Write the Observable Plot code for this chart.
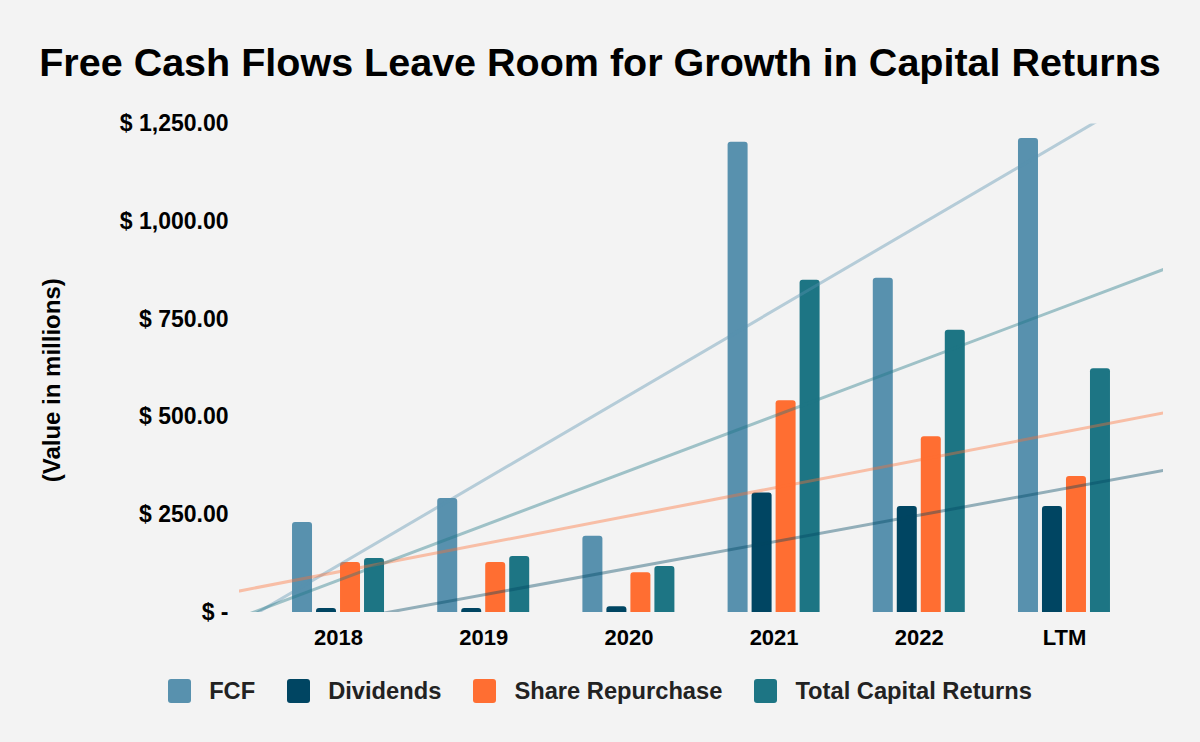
<!DOCTYPE html>
<html><head><meta charset="utf-8">
<script src="https://cdn.jsdelivr.net/npm/d3@7"></script>
<script src="https://cdn.jsdelivr.net/npm/@observablehq/plot@0.6"></script>
<style>
html,body{margin:0;padding:0;background:#f3f3f3;width:1200px;height:742px;overflow:hidden;font-family:"Liberation Sans",Arial,sans-serif;}
#title{position:absolute;left:0;top:42px;width:1200px;text-align:center;font-size:39.5px;line-height:40px;font-weight:bold;color:#000;white-space:nowrap;}
#chart{position:absolute;left:0;top:90px;}
#legend{position:absolute;left:0;top:679px;width:1200px;height:24px;display:flex;justify-content:center;align-items:center;font-size:23.7px;font-weight:bold;color:#222;}
.item{display:flex;align-items:center;margin:0 16px;white-space:nowrap;}
.sw{width:23px;height:24px;border-radius:3px;margin-right:18px;}
</style></head><body>
<div id="title">Free Cash Flows Leave Room for Growth in Capital Returns</div>
<div id="chart"></div>
<div id="legend"></div>
<script>
const categories = ["2018", "2019", "2020", "2021", "2022", "LTM"];
const seriesNames = ["FCF", "Dividends", "Share Repurchase", "Total Capital Returns"];
const fcf = [230, 292, 195, 1203, 855, 1213];
const dividends = [10, 10, 15, 306, 271, 271];
const shareRepurchase = [128, 128, 102, 542, 450, 348];
const totalCapitalReturns = [138, 143, 118, 850, 722, 624];
const colors = ["#5891ae", "#004562", "#ff6e32", "#1d7584"];
const yTicks = [0, 250, 500, 750, 1000, 1250];
const yLabel = "(Value in millions)";

const values = [fcf, dividends, shareRepurchase, totalCapitalReturns];
const rows = values.flatMap((vals, s) => vals.map((v, i) => ({series: seriesNames[s], s, i, value: v})));

const xPad = 0.682;
const xDomain = [-xPad, categories.length - 1 + xPad];

// linear trend lines (least squares over category index), extended across the plot
const trend = values.flatMap((vals, s) => {
  const xs = d3.range(vals.length);
  const mx = d3.mean(xs), my = d3.mean(vals);
  const slope = d3.sum(xs, (x, k) => (x - mx) * (vals[k] - my)) / d3.sum(xs, x => (x - mx) ** 2);
  return xDomain.map(x => ({series: seriesNames[s], s, x, y: my + slope * (x - mx)}));
});

const barW = 20, barStep = 24;
const marks = [];
values.forEach((vals, s) => {
  marks.push(Plot.rect(rows.filter(d => d.s === s), {
    x1: "i", x2: "i", y1: 0, y2: "value",
    fill: colors[s],
    insetLeft: -barW / 2, insetRight: -barW / 2, insetBottom: -5,
    dx: (s - (values.length - 1) / 2) * barStep,
    rx: 3, clip: true
  }));
});
values.forEach((vals, s) => {
  marks.push(Plot.line(trend.filter(d => d.s === s), {
    x: "x", y: "y", stroke: colors[s], strokeOpacity: 0.4, strokeWidth: 3, clip: true
  }));
});
marks.push(Plot.axisY({
  ticks: yTicks,
  tickFormat: v => v === 0 ? "$ -" : "$ " + d3.format(",.2f")(v),
  tickSize: 0, tickPadding: 11, label: null, fontSize: 23
}));
marks.push(Plot.axisX({
  ticks: d3.range(categories.length),
  tickFormat: i => categories[i],
  tickSize: 0, tickPadding: 17, label: null
}));
marks.push(Plot.text([yLabel], {
  frameAnchor: "left", textAnchor: "middle", dx: -187, dy: 12, rotate: -90,
  fontSize: 24, fontWeight: "bold", fill: "#000"
}));

const chart = Plot.plot({
  width: 1200, height: 565,
  marginLeft: 239, marginRight: 37, marginTop: 33.5, marginBottom: 43,
  x: {domain: xDomain},
  y: {domain: [0, 1250]},
  style: {fontSize: "22px", fontWeight: "bold", fontFamily: "'Liberation Sans', Arial, sans-serif", color: "#000", background: "transparent", overflow: "visible"},
  marks
});
document.getElementById("chart").appendChild(chart);

const legend = document.getElementById("legend");
seriesNames.forEach((name, s) => {
  const item = document.createElement("div");
  item.className = "item";
  const sw = document.createElement("div");
  sw.className = "sw";
  sw.style.background = colors[s];
  const label = document.createElement("span");
  label.textContent = name;
  item.appendChild(sw);
  item.appendChild(label);
  legend.appendChild(item);
});
</script>
</body></html>
